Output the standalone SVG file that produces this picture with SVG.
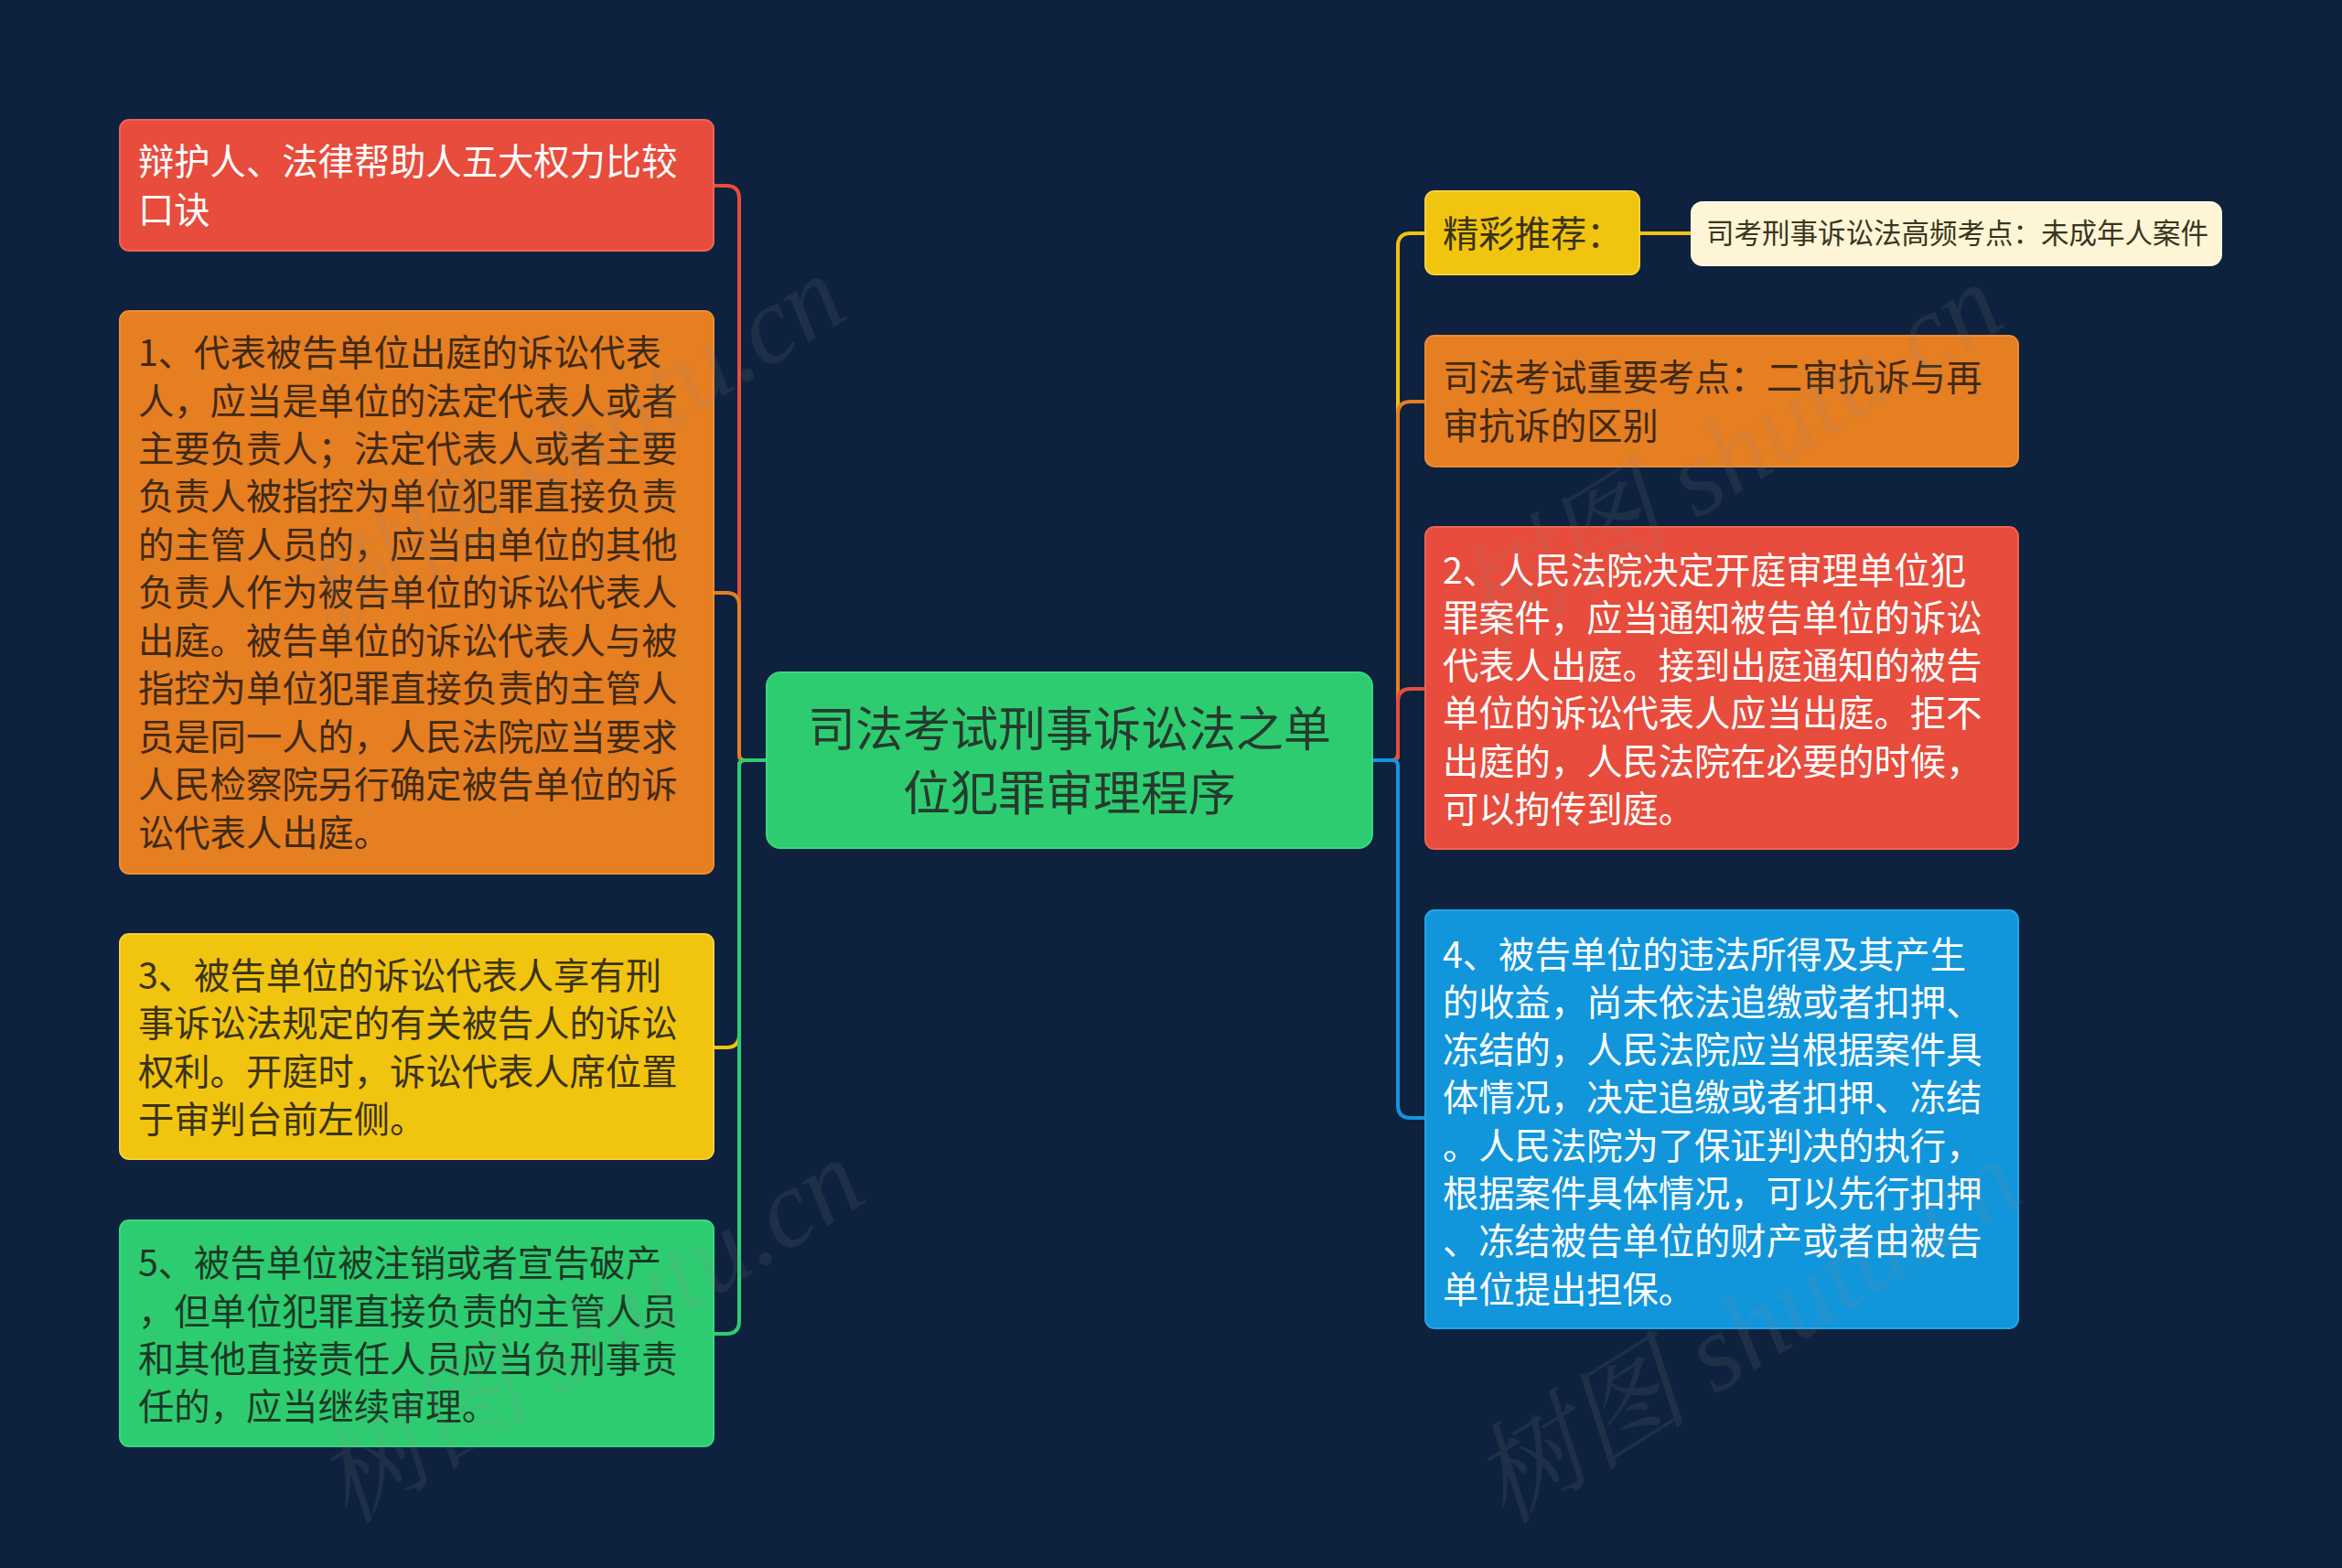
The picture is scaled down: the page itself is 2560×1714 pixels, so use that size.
<svg xmlns="http://www.w3.org/2000/svg" width="2560" height="1714" viewBox="0 0 2560 1714">
<style>
.t{font-family:"Noto Sans CJK SC","Noto Sans",sans-serif;font-size:39.3px;dominant-baseline:central}
.tc{font-family:"Noto Sans CJK SC","Noto Sans",sans-serif;font-size:52px;dominant-baseline:central;text-anchor:middle;fill:#263a2d}
.ts{font-family:"Noto Sans CJK SC","Noto Sans",sans-serif;font-size:30.5px;dominant-baseline:central;fill:#3a3520}
.w{fill:#ffffff}
.dk-o{fill:#3f2a14}
.dk-y{fill:#3a3318}
.dk-g{fill:#1c3826}
.c{fill:none;stroke-width:4;stroke-linecap:round;stroke-linejoin:round}
.wm{font-family:"Liberation Serif","Noto Serif CJK SC","Noto Sans CJK SC",serif;font-size:120px;font-style:italic;fill:#8a8a8a;opacity:0.13}
</style>
<rect x="0" y="0" width="2560" height="1714" fill="#0e223f"/>

<g id="connectors">
  <path class="c" stroke="#e74c3c" d="M838 831 H814 Q808 831 808 825 V217 Q808 203 794 203 H780"/>
  <path class="c" stroke="#e67e22" d="M838 831 H814 Q808 831 808 825 V662 Q808 648 794 648 H780"/>
  <path class="c" stroke="#f1c40f" d="M838 831 H814 Q808 831 808 837 V1131 Q808 1145 794 1145 H780"/>
  <path class="c" stroke="#2ecc71" d="M838 831 H814 Q808 831 808 837 V1444 Q808 1458 794 1458 H780"/>
  <path class="c" stroke="#f1c40f" d="M1500 831 H1522 Q1528 831 1528 825 V269 Q1528 255 1542 255 H1558"/>
  <path class="c" stroke="#e67e22" d="M1500 831 H1522 Q1528 831 1528 825 V453 Q1528 439 1542 439 H1558"/>
  <path class="c" stroke="#e74c3c" d="M1500 831 H1522 Q1528 831 1528 825 V767 Q1528 753 1542 753 H1558"/>
  <path class="c" stroke="#1296db" d="M1500 831 H1522 Q1528 831 1528 837 V1208 Q1528 1222 1542 1222 H1558"/>
  <path class="c" stroke="#f1c40f" d="M1792 255 H1849"/>
</g>

<g id="center">
  <rect x="838" y="735" width="662" height="192" rx="15" fill="#2ecc71" stroke="#3ad87c" stroke-width="2"/>
  <text class="tc" x="1169" y="793">司法考试刑事诉讼法之单</text>
  <text class="tc" x="1169" y="863">位犯罪审理程序</text>
</g>

<g id="node-l1">
  <rect x="131" y="131" width="649" height="143" rx="10" fill="#e74c3c" stroke="#ee6352" stroke-width="2"/>
  <text class="t w" x="151" y="173">辩护人、法律帮助人五大权力比较</text>
  <text class="t w" x="151" y="226">口诀</text>
</g>

<g id="node-l2">
  <rect x="131" y="340" width="649" height="615" rx="10" fill="#e67e22" stroke="#ec8d36" stroke-width="2"/>
  <g class="t dk-o">
  <text x="151" y="382.5">1、代表被告单位出庭的诉讼代表</text>
  <text x="151" y="435">人，应当是单位的法定代表人或者</text>
  <text x="151" y="487.5">主要负责人；法定代表人或者主要</text>
  <text x="151" y="539.8">负责人被指控为单位犯罪直接负责</text>
  <text x="151" y="592.3">的主管人员的，应当由单位的其他</text>
  <text x="151" y="644.8">负责人作为被告单位的诉讼代表人</text>
  <text x="151" y="697.2">出庭。被告单位的诉讼代表人与被</text>
  <text x="151" y="749.6">指控为单位犯罪直接负责的主管人</text>
  <text x="151" y="802">员是同一人的，人民法院应当要求</text>
  <text x="151" y="854.5">人民检察院另行确定被告单位的诉</text>
  <text x="151" y="907">讼代表人出庭。</text>
  </g>
</g>

<g id="node-l3">
  <rect x="131" y="1021" width="649" height="246" rx="10" fill="#f1c40f" stroke="#f5d040" stroke-width="2"/>
  <g class="t dk-y">
  <text x="151" y="1063">3、被告单位的诉讼代表人享有刑</text>
  <text x="151" y="1115.5">事诉讼法规定的有关被告人的诉讼</text>
  <text x="151" y="1168">权利。开庭时，诉讼代表人席位置</text>
  <text x="151" y="1220">于审判台前左侧。</text>
  </g>
</g>

<g id="node-l4">
  <rect x="131" y="1334" width="649" height="247" rx="10" fill="#2ecc71" stroke="#3ad87c" stroke-width="2"/>
  <g class="t dk-g">
  <text x="151" y="1377.5">5、被告单位被注销或者宣告破产</text>
  <text x="151" y="1430">，但单位犯罪直接负责的主管人员</text>
  <text x="151" y="1482">和其他直接责任人员应当负刑事责</text>
  <text x="151" y="1534">任的，应当继续审理。</text>
  </g>
</g>

<g id="node-r1">
  <rect x="1558" y="209" width="234" height="91" rx="10" fill="#f1c40f" stroke="#f5d040" stroke-width="2"/>
  <text class="t dk-y" x="1577" y="252">精彩推荐：</text>
</g>

<g id="node-r1a">
  <rect x="1849" y="221" width="579" height="69" rx="12" fill="#fdf5d6" stroke="#fff9e3" stroke-width="2"/>
  <text class="ts" x="1865" y="253">司考刑事诉讼法高频考点：未成年人案件</text>
</g>

<g id="node-r2">
  <rect x="1558" y="367" width="648" height="143" rx="10" fill="#e67e22" stroke="#ec8d36" stroke-width="2"/>
  <g class="t dk-o">
  <text x="1577" y="409">司法考试重要考点：二审抗诉与再</text>
  <text x="1577" y="462">审抗诉的区别</text>
  </g>
</g>

<g id="node-r3">
  <rect x="1558" y="576" width="648" height="352" rx="10" fill="#e74c3c" stroke="#ee6352" stroke-width="2"/>
  <g class="t w">
  <text x="1577" y="620">2、人民法院决定开庭审理单位犯</text>
  <text x="1577" y="672.3">罪案件，应当通知被告单位的诉讼</text>
  <text x="1577" y="724.6">代表人出庭。接到出庭通知的被告</text>
  <text x="1577" y="776.9">单位的诉讼代表人应当出庭。拒不</text>
  <text x="1577" y="829.2">出庭的，人民法院在必要的时候，</text>
  <text x="1577" y="881.5">可以拘传到庭。</text>
  </g>
</g>

<g id="node-r4">
  <rect x="1558" y="995" width="648" height="457" rx="10" fill="#1296db" stroke="#25a3e6" stroke-width="2"/>
  <g class="t w">
  <text x="1577" y="1040">4、被告单位的违法所得及其产生</text>
  <text x="1577" y="1092.3">的收益，尚未依法追缴或者扣押、</text>
  <text x="1577" y="1144.6">冻结的，人民法院应当根据案件具</text>
  <text x="1577" y="1196.9">体情况，决定追缴或者扣押、冻结</text>
  <text x="1577" y="1249.2">。人民法院为了保证判决的执行，</text>
  <text x="1577" y="1301.5">根据案件具体情况，可以先行扣押</text>
  <text x="1577" y="1353.8">、冻结被告单位的财产或者由被告</text>
  <text x="1577" y="1406">单位提出担保。</text>
  </g>
</g>

<g id="watermarks">
  <text class="wm" transform="translate(360 702) rotate(-32)">树图 shutu.cn</text>
  <text class="wm" transform="translate(380 1668) rotate(-32)">树图 shutu.cn</text>
  <text class="wm" transform="translate(1625 711) rotate(-32)">树图 shutu.cn</text>
  <text class="wm" transform="translate(1645 1668) rotate(-32)">树图 shutu.cn</text>
</g>
</svg>
